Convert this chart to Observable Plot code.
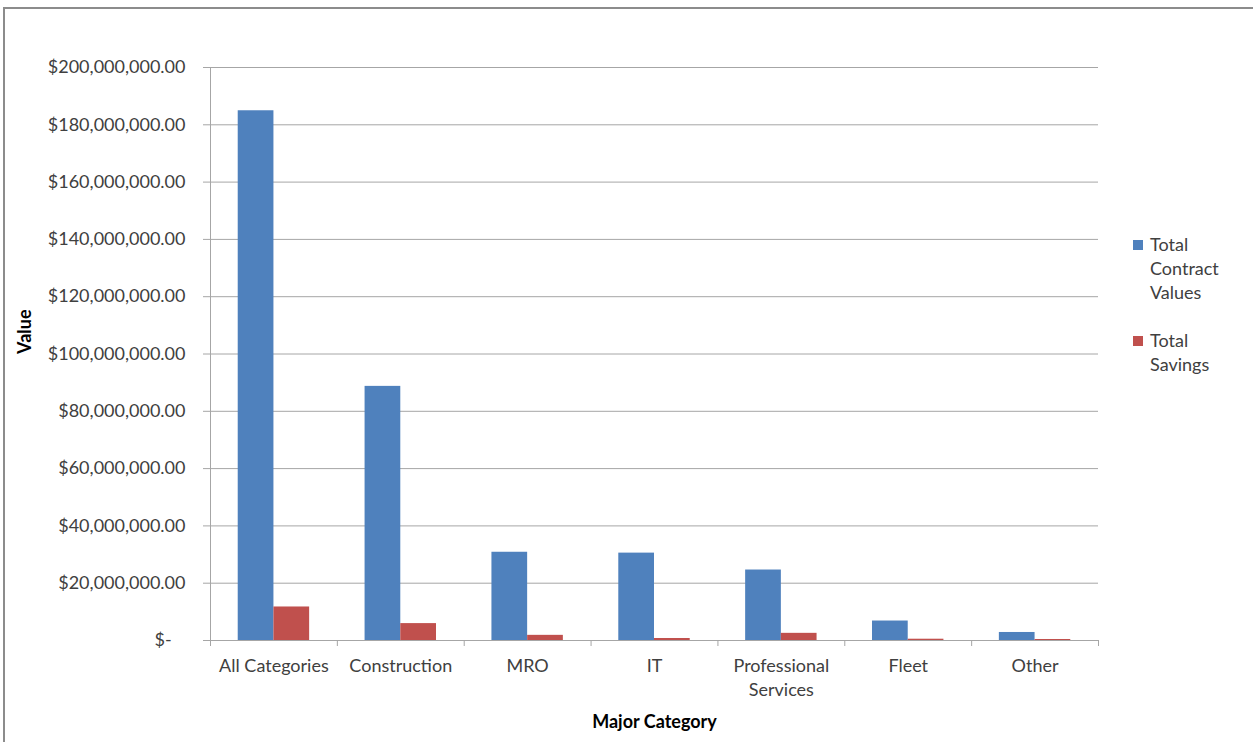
<!DOCTYPE html>
<html><head><meta charset="utf-8">
<script src="https://cdn.jsdelivr.net/npm/d3@7"></script>
<script src="https://cdn.jsdelivr.net/npm/@observablehq/plot@0.6"></script>
<style>
html,body{margin:0;padding:0;background:#fff;overflow:hidden;width:1253px;height:742px}
#wrap{position:relative;width:1253px;height:742px}
#frame{position:absolute;left:3px;top:7px;width:1300px;height:800px;border-left:2px solid #8c8c8c;border-top:2px solid #8c8c8c;pointer-events:none}
#legend{position:absolute;left:1133px;top:232px;font-family:Lato;font-size:18px;color:#404040;line-height:24px}
.item{display:flex;align-items:flex-start;margin-bottom:24px}
.sw{width:10px;height:10px;margin-top:8px;margin-right:7px;flex:none}
</style></head>
<body><div id="wrap"><div id="chart"></div><div id="legend"></div><div id="frame"></div></div>
<script>
const categories = ["All Categories", "Construction", "MRO", "IT", "Professional Services", "Fleet", "Other"];
const seriesNames = ["Total Contract Values", "Total Savings"];
const contractValues = [184.9e6, 88.7e6, 30.8e6, 30.5e6, 24.6e6, 6.8e6, 2.8e6];
const savings = [11.7e6, 5.9e6, 1.8e6, 0.7e6, 2.5e6, 0.45e6, 0.35e6];
const yTicks = [0, 20e6, 40e6, 60e6, 80e6, 100e6, 120e6, 140e6, 160e6, 180e6, 200e6];
const seriesColors = ["#4F81BD", "#C0504D"];

const rows = categories.flatMap((c, i) => [
  {category: c, index: i, series: seriesNames[0], value: contractValues[i]},
  {category: c, index: i, series: seriesNames[1], value: savings[i]}
]);

const grey = "#a6a6a6";
const textCol = "#404040";
const fmt = d3.format("$,.2f");
const barW = 0.2815;

const chart = Plot.plot({
  width: 1253,
  height: 742,
  marginLeft: 210,
  marginRight: 155,
  marginTop: 67,
  marginBottom: 102,
  style: {fontFamily: "Lato", fontSize: "18px", background: "transparent", color: textCol},
  x: {type: "linear", domain: [0, categories.length], axis: null},
  y: {domain: [0, 200e6], axis: null},
  color: {domain: seriesNames, range: seriesColors},
  marks: [
    Plot.gridY(yTicks.filter(d => d > 0), {stroke: grey, strokeOpacity: 1}),
    Plot.rect(rows, {
      x1: d => d.index + (d.series === seriesNames[0] ? 0.5 - barW : 0.5),
      x2: d => d.index + (d.series === seriesNames[0] ? 0.5 : 0.5 + barW),
      y1: 0, y2: "value", fill: "series"
    }),
    Plot.ruleX([0], {stroke: grey}),
    Plot.ruleY([0], {stroke: grey}),
    Plot.axisY(yTicks, {tickSize: 7, tickPadding: 18, stroke: grey, fill: textCol,
      tickFormat: d => d === 0 ? "$-\u00a0\u00a0\u00a0" : fmt(d), label: null}),
    Plot.axisX(d3.range(categories.length + 1), {tickSize: 6, stroke: grey, tickFormat: () => "", label: null}),
    Plot.text(categories, {x: (d, i) => i + 0.5, frameAnchor: "bottom", lineAnchor: "top", dy: 14,
      lineWidth: 7.5, lineHeight: 1.35, fill: textCol}),
    Plot.text(["Major Category"], {frameAnchor: "bottom", lineAnchor: "middle", dy: 82, fontWeight: "bold", fill: "#000"}),
    Plot.text(["Value"], {frameAnchor: "left", dx: -185, rotate: -90, fontWeight: "bold", fill: "#000"})
  ]
});
document.getElementById("chart").appendChild(chart);

const legend = document.getElementById("legend");
seriesNames.forEach((s, i) => {
  const item = document.createElement("div");
  item.className = "item";
  const sw = document.createElement("div");
  sw.className = "sw";
  sw.style.background = seriesColors[i];
  const label = document.createElement("div");
  label.innerHTML = s.split(" ").join("<br>");
  item.appendChild(sw);
  item.appendChild(label);
  legend.appendChild(item);
});
</script>
</body></html>
